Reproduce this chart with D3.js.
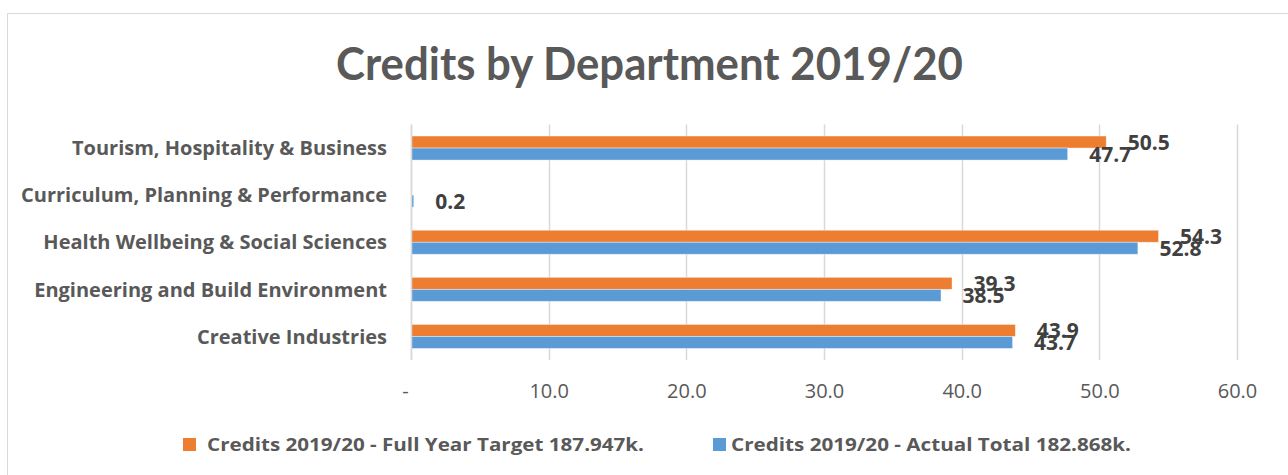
<!DOCTYPE html>
<html>
<head>
<meta charset="utf-8">
<script src="https://cdn.jsdelivr.net/npm/d3@7"></script>
<style>
  html, body { margin: 0; padding: 0; background: #fff; }
  svg { display: block; }
</style>
</head>
<body>
<svg id="chart" width="1288" height="475"></svg>
<script>
// Departments, top to bottom
const departments = [
  "Tourism, Hospitality & Business",
  "Curriculum, Planning & Performance",
  "Health Wellbeing & Social Sciences",
  "Engineering and Build Environment",
  "Creative Industries"
];
// Credits in thousands
const targetCredits = [50.5, null, 54.3, 39.3, 43.9];
const actualCredits = [47.7, 0.2, 52.8, 38.5, 43.7];
const seriesNames = [
  "Credits 2019/20 - Full Year Target 187.947k.",
  "Credits 2019/20 - Actual Total 182.868k."
];
const seriesKeys = ["target", "actual"];
const seriesColors = ["#ED7D31", "#5B9BD5"];
const tickValues = [0, 10, 20, 30, 40, 50, 60];
const chartTitle = "Credits by Department 2019/20";

const svg = d3.select("#chart");
const textGrey = "#595959";
const labelGrey = "#404040";
const gridGrey = "#d9d9d9";

// Shrink/stretch a text node to a given width if its natural width differs
function fitWidth(sel, target) {
  const w = sel.node().getComputedTextLength();
  if (Math.abs(w - target) / target > 0.02) {
    sel.attr("textLength", target).attr("lengthAdjust", "spacingAndGlyphs");
  }
}

// Chart-area frame
svg.append("rect")
  .attr("x", 7.5).attr("y", 13.5)
  .attr("width", 1400).attr("height", 600)
  .attr("fill", "none").attr("stroke", gridGrey).attr("stroke-width", 1);

// Title
const title = svg.append("text")
  .attr("x", 649.5).attr("y", 80)
  .attr("text-anchor", "middle")
  .attr("font-family", "Lato, 'Open Sans', sans-serif")
  .attr("font-weight", 700)
  .attr("font-size", 46)
  .attr("fill", textGrey)
  .text(chartTitle);
fitWidth(title, 627);

// Scales
const x = d3.scaleLinear().domain([0, 60]).range([411, 1237]);
const y = d3.scaleBand().domain(departments).range([124.5, 360])
  .paddingInner(0.49).paddingOuter(0.245);
const ySeries = d3.scaleBand().domain(seriesKeys).range([0, y.bandwidth()]);

// Gridlines
svg.append("g")
  .selectAll("line")
  .data(tickValues)
  .join("line")
  .attr("x1", d => Math.round(x(d)) + 0.5)
  .attr("x2", d => Math.round(x(d)) + 0.5)
  .attr("y1", 124.5).attr("y2", 360)
  .attr("stroke", gridGrey).attr("stroke-width", 1.5);

// Value axis
const xAxis = d3.axisBottom(x)
  .tickValues(tickValues)
  .tickSize(0)
  .tickPadding(0)
  .tickFormat(d => d === 0 ? "-" : d3.format(".1f")(d));
const gx = svg.append("g").attr("transform", "translate(0,398)").call(xAxis);
gx.select(".domain").remove();
gx.selectAll("text")
  .attr("y", 0).attr("dy", 0)
  .attr("dx", d => d === 0 ? -6 : 0)
  .attr("font-family", "'Open Sans', sans-serif")
  .attr("font-size", 20)
  .attr("fill", textGrey);

// Category axis
const yAxis = d3.axisLeft(y).tickSize(0).tickPadding(0);
const gy = svg.append("g").attr("transform", "translate(387,0)").call(yAxis);
gy.select(".domain").remove();
gy.selectAll("text")
  .attr("x", 0).attr("dy", "0.36em")
  .attr("font-family", "'Open Sans', sans-serif")
  .attr("font-weight", 700)
  .attr("font-size", 20)
  .attr("fill", textGrey);

// Bars
const rows = departments.map((dep, i) => ({
  dep,
  values: [
    { key: "target", value: targetCredits[i] },
    { key: "actual", value: actualCredits[i] }
  ]
}));

const groups = svg.append("g")
  .selectAll("g")
  .data(rows)
  .join("g")
  .attr("transform", d => `translate(0,${y(d.dep)})`);

groups.selectAll("rect")
  .data(d => d.values.filter(v => v.value != null))
  .join("rect")
  .attr("x", x(0))
  .attr("y", d => ySeries(d.key))
  .attr("width", d => x(d.value) - x(0))
  .attr("height", ySeries.bandwidth())
  .attr("fill", d => seriesColors[seriesKeys.indexOf(d.key)])
  .attr("stroke", "#fff").attr("stroke-opacity", 0.5).attr("stroke-width", 0.8);

// Data labels
groups.selectAll("text")
  .data(d => d.values.filter(v => v.value != null))
  .join("text")
  .attr("x", d => x(d.value) + 21.5)
  .attr("y", d => ySeries(d.key) + ySeries.bandwidth() / 2 + 8)
  .attr("font-family", "'Open Sans', sans-serif")
  .attr("font-weight", 700)
  .attr("font-size", 21)
  .attr("fill", labelGrey)
  .text(d => d3.format(".1f")(d.value));

// Category axis line
svg.append("line")
  .attr("x1", 411.5).attr("x2", 411.5)
  .attr("y1", 124.5).attr("y2", 360)
  .attr("stroke", gridGrey).attr("stroke-width", 1.5);

// Legend
const legendX = [183, 713];
const legendTextX = [207, 731];
const legendWidths = [437, 400];
const legend = svg.append("g")
  .selectAll("g")
  .data(seriesNames)
  .join("g");
legend.append("rect")
  .attr("x", (d, i) => legendX[i]).attr("y", 438)
  .attr("width", 13).attr("height", 13)
  .attr("fill", (d, i) => seriesColors[i]);
legend.append("text")
  .attr("x", (d, i) => legendTextX[i]).attr("y", 451)
  .attr("font-family", "'Open Sans', sans-serif")
  .attr("font-weight", 700)
  .attr("font-size", 18)
  .attr("fill", textGrey)
  .text(d => d)
  .each(function (d, i) { fitWidth(d3.select(this), legendWidths[i]); });
</script>
</body>
</html>
